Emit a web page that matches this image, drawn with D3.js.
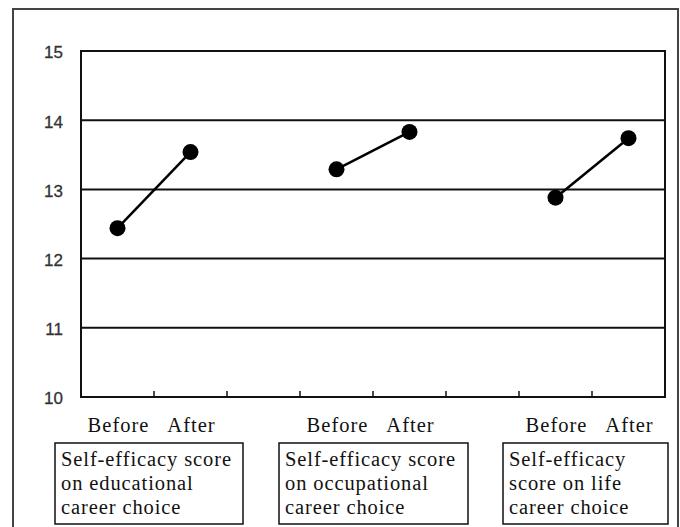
<!DOCTYPE html>
<html>
<head>
<meta charset="utf-8">
<script src="https://cdn.jsdelivr.net/npm/d3@7"></script>
<style>
  html, body { margin: 0; padding: 0; background: #fff; }
  svg { display: block; }
</style>
</head>
<body>
<svg id="chart" width="680" height="527"></svg>
<script>
// ---- data ----
const categories = ["Before1", "After1", "gap1", "Before2", "After2", "gap2", "Before3", "After3"];
const categoryLabels = ["Before", "After", "", "Before", "After", "", "Before", "After"];
const groupKeys = [["Before1", "After1"], ["Before2", "After2"], ["Before3", "After3"]];
const beforeValues = [12.44, 13.29, 12.88];
const afterValues = [13.54, 13.83, 13.74];
const yTicks = [10, 11, 12, 13, 14, 15];
const groupLabels = [
  ["Self-efficacy score", "on educational", "career choice"],
  ["Self-efficacy score", "on occupational", "career choice"],
  ["Self-efficacy", "score on life", "career choice"]
];

// ---- layout ----
const SERIF = "'Liberation Serif', 'Times New Roman', serif";
const svg = d3.select("#chart");
const plot = { left: 81, right: 665, top: 51, bottom: 397 };
const boxes = [ { x0: 55, x1: 243 }, { x0: 279, x1: 468 }, { x0: 503, x1: 668 } ];
const boxTop = 443, boxBottom = 524;

const x = d3.scaleBand().domain(categories).range([plot.left, plot.right]).padding(0);
const y = d3.scaleLinear().domain([10, 15]).range([plot.bottom, plot.top]);

// outer frame
svg.append("rect")
  .attr("x", 13).attr("y", 9).attr("width", 665).attr("height", 540)
  .attr("fill", "none").attr("stroke", "#444").attr("stroke-width", 2);

// gridlines
svg.append("g").selectAll("line").data(yTicks.filter(d => d > 10 && d < 15)).join("line")
  .attr("x1", plot.left).attr("x2", plot.right)
  .attr("y1", d => y(d)).attr("y2", d => y(d))
  .attr("stroke", "#111").attr("stroke-width", 2);

// plot border
svg.append("rect")
  .attr("x", plot.left).attr("y", plot.top)
  .attr("width", plot.right - plot.left).attr("height", plot.bottom - plot.top)
  .attr("fill", "none").attr("stroke", "#111").attr("stroke-width", 2);

// x ticks at band boundaries (inward)
svg.append("g").selectAll("line").data(categories.slice(1)).join("line")
  .attr("x1", d => x(d)).attr("x2", d => x(d))
  .attr("y1", plot.bottom).attr("y2", plot.bottom - 6)
  .attr("stroke", "#111").attr("stroke-width", 1.5);

// y tick labels
svg.append("g").selectAll("text").data(yTicks).join("text")
  .attr("x", 63).attr("y", d => y(d) + 3)
  .attr("text-anchor", "end").attr("dominant-baseline", "middle")
  .style("font-family", "'Liberation Sans', Arial, sans-serif")
  .style("font-size", "17px").attr("fill", "#333")
  .attr("stroke", "#333").attr("stroke-width", 0.3)
  .text(d => d);

// x category labels
svg.append("g").selectAll("text").data(categories.filter((d, i) => categoryLabels[i])).join("text")
  .attr("x", d => x(d) + x.bandwidth() / 2 + 1)
  .attr("y", 432)
  .attr("text-anchor", "middle")
  .style("font-family", SERIF).style("font-size", "20.5px").style("letter-spacing", "1px")
  .attr("fill", "#111")
  .text(d => categoryLabels[categories.indexOf(d)]);

// lines and points
const cx = k => x(k) + x.bandwidth() / 2;
const gData = groupKeys.map((keys, i) => ({
  pts: [{ k: keys[0], v: beforeValues[i] }, { k: keys[1], v: afterValues[i] }]
}));
const line = d3.line().x(d => cx(d.k)).y(d => y(d.v));
const gg = svg.append("g");
gg.selectAll("path").data(gData).join("path")
  .attr("d", d => line(d.pts))
  .attr("fill", "none").attr("stroke", "#000").attr("stroke-width", 2.5);
gg.selectAll("circle").data(gData.flatMap(d => d.pts)).join("circle")
  .attr("cx", d => cx(d.k)).attr("cy", d => y(d.v)).attr("r", 8)
  .attr("fill", "#000");

// group label boxes
const bg = svg.append("g").selectAll("g").data(groupLabels).join("g");
bg.append("rect")
  .attr("x", (d, i) => boxes[i].x0).attr("y", boxTop)
  .attr("width", (d, i) => boxes[i].x1 - boxes[i].x0).attr("height", boxBottom - boxTop)
  .attr("fill", "#fff").attr("stroke", "#111").attr("stroke-width", 1.5);
bg.each(function(lines, i) {
  const t = d3.select(this).append("text")
    .attr("x", boxes[i].x0 + 6).attr("y", 466)
    .style("font-family", SERIF).style("font-size", "20.5px").style("letter-spacing", "0.9px")
    .attr("fill", "#111");
  t.selectAll("tspan").data(lines).join("tspan")
    .attr("x", boxes[i].x0 + 6)
    .attr("dy", (d, j) => j === 0 ? 0 : 24)
    .text(d => d);
});
</script>
</body>
</html>
